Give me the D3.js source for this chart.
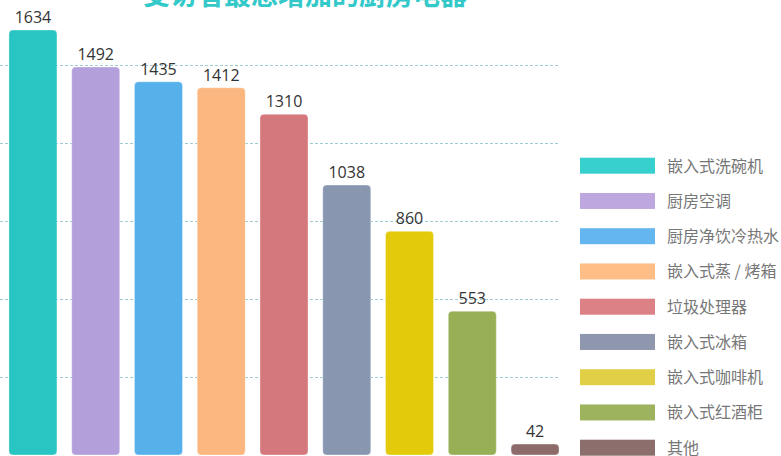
<!DOCTYPE html>
<html lang="zh">
    <head>
        <meta charset="utf-8">
        <title>受访者最想增加的厨房电器</title>
        <script src="https://d3js.org/d3.v7.min.js"></script>
        <style type="text/css">
            body { margin: 0; background: #fff; }
            .title {
                font-family: "Noto Sans CJK SC", sans-serif;
                font-size: 27px;
                font-weight: bold;
            }
            .labels {
                font-family: "Open Sans", "Noto Sans", sans-serif;
                font-size: 16px;
            }
            .legend text {
                font-family: "Noto Sans CJK SC", sans-serif;
                font-size: 16px;
            }
        </style>
    </head>
    <body>
        <script type="text/javascript">
            // data
            const categories = ["嵌入式洗碗机", "厨房空调", "厨房净饮冷热水", "嵌入式蒸 / 烤箱", "垃圾处理器",
                                "嵌入式冰箱", "嵌入式咖啡机", "嵌入式红酒柜", "其他"];
            const counts = [1634, 1492, 1435, 1412, 1310, 1038, 860, 553, 42];
            const gridTicks = [300, 600, 900, 1200, 1500];

            const barColors = ["#29c5c3", "#b3a0db", "#56b0ea", "#fbb77f", "#d5787d",
                               "#8896b0", "#e3cb0b", "#97b055", "#8e6b6b"];
            const legendColors = ["#38cfcf", "#bda7de", "#63b6ef", "#ffbe85", "#dc8185",
                                  "#8f97ae", "#e2cf48", "#9db35e", "#8c6f6c"];

            const data = categories.map((c, i) => ({name: c, value: counts[i]}));

            // constants
            const w = 781;
            const h = 456;
            const base = 455;

            const svg = d3.select("body")
                          .append("svg")
                          .attr("width", w)
                          .attr("height", h);

            const x = d3.scaleBand()
                        .domain(categories)
                        .range([1.6, 566.4])
                        .paddingInner(0.235)
                        .paddingOuter(0.117);

            const y = d3.scaleLinear()
                        .domain([0, 1634])
                        .range([base, 30]);

            const color = d3.scaleOrdinal(categories, barColors);
            const legendColor = d3.scaleOrdinal(categories, legendColors);

            // grid lines
            svg.append("g")
               .selectAll("line")
               .data(gridTicks)
               .enter()
               .append("line")
               .attr("x1", 0)
               .attr("x2", 559)
               .attr("y1", d => Math.round(y(d)) + 0.5)
               .attr("y2", d => Math.round(y(d)) + 0.5)
               .attr("stroke", "#9fcbd3")
               .attr("stroke-dasharray", "3,2");

            // bars
            svg.append("g")
               .selectAll("rect")
               .data(data)
               .enter()
               .append("rect")
               .attr("x", d => x(d.name))
               .attr("y", d => y(d.value))
               .attr("width", x.bandwidth())
               .attr("height", d => base - y(d.value))
               .attr("rx", 4)
               .attr("fill", d => color(d.name))
               .attr("stroke", "rgba(255,255,255,0.35)");

            // value labels
            svg.append("g")
               .selectAll("text")
               .data(data)
               .enter()
               .append("text")
               .attr("class", "labels")
               .attr("x", d => x(d.name) + x.bandwidth() / 2)
               .attr("y", d => y(d.value) - 7)
               .attr("text-anchor", "middle")
               .attr("fill", "#333")
               .text(d => d.value);

            // legend
            const legend = svg.append("g")
                              .attr("class", "legend")
                              .selectAll("g")
                              .data(categories)
                              .enter()
                              .append("g")
                              .attr("transform", (d, i) => "translate(580," + (157.7 + i * 35.25) + ")");

            legend.append("rect")
                  .attr("width", 75)
                  .attr("height", 16)
                  .attr("fill", d => legendColor(d));

            legend.append("text")
                  .attr("x", 87)
                  .attr("y", 14)
                  .attr("fill", "#777")
                  .text(d => d);

            // title (mostly cut off at top)
            svg.append("text")
               .attr("class", "title")
               .attr("x", 305)
               .attr("y", 5)
               .attr("text-anchor", "middle")
               .attr("fill", "#33c9c9")
               .text("受访者最想增加的厨房电器");
        </script>
    </body>
</html>
